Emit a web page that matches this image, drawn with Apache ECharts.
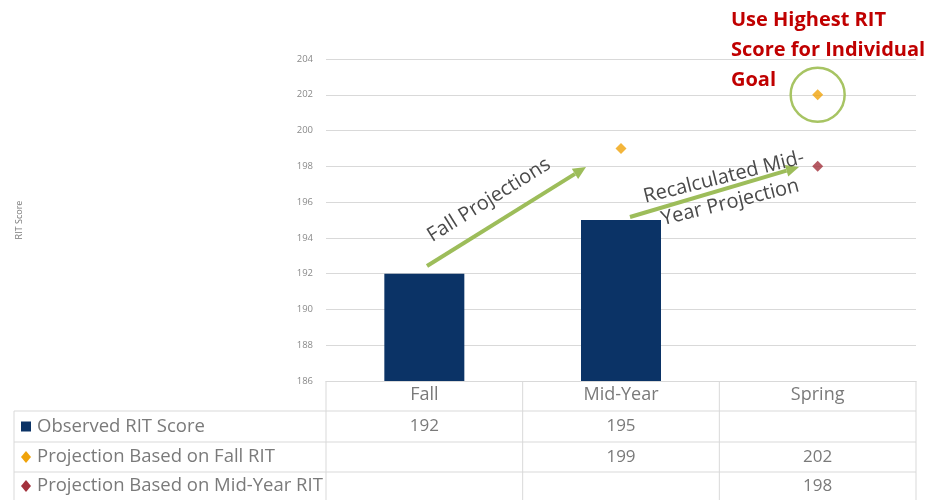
<!DOCTYPE html>
<html>
<head>
<meta charset="utf-8">
<script src="https://cdn.jsdelivr.net/npm/echarts@6/dist/echarts.min.js"></script>
<style>
  html, body {margin: 0; padding: 0; background: #fff;}
  #chart {width: 932px; height: 500px;}
</style>
</head>
<body>
<div id="chart"></div>
<script>
const categories = ['Fall', 'Mid-Year', 'Spring'];
const observed = [192, 195, null];
const fallProjection = [null, 199, 202];
const midYearProjection = [null, null, 198];
const seriesNames = ['Observed RIT Score', 'Projection Based on Fall RIT', 'Projection Based on Mid-Year RIT'];
const seriesColors = ['#0b3366', '#f0a30a', '#a3313c'];

const font = '"Open Sans", sans-serif';
const gray = '#7a7a7a';
const lineColor = '#d9d9d9';
const green = '#9dbd5a';

const chart = echarts.init(document.getElementById('chart'));

chart.setOption({
    animation: false,
    textStyle: {fontFamily: font},
    grid: {left: 326, right: 16, top: 59, bottom: 119},
    xAxis: {
        type: 'category',
        data: categories,
        axisTick: {show: false},
        axisLine: {lineStyle: {color: lineColor}},
        axisLabel: {color: gray, fontSize: 18, margin: 5}
    },
    yAxis: {
        type: 'value',
        min: 186,
        max: 204,
        interval: 2,
        name: 'RIT Score',
        nameLocation: 'middle',
        nameGap: 302,
        nameTextStyle: {color: gray, fontSize: 9},
        axisLine: {show: false},
        axisTick: {show: false},
        axisLabel: {color: '#8a8a8a', fontSize: 9.5, margin: 13},
        splitLine: {lineStyle: {color: lineColor}}
    },
    series: [
        {
            name: seriesNames[0],
            type: 'bar',
            barWidth: 80,
            itemStyle: {color: seriesColors[0]},
            data: observed
        },
        {
            name: seriesNames[1],
            type: 'scatter',
            symbol: 'diamond',
            symbolSize: 11,
            itemStyle: {color: seriesColors[1]},
            data: fallProjection
        },
        {
            name: seriesNames[2],
            type: 'scatter',
            symbol: 'diamond',
            symbolSize: 11,
            itemStyle: {color: seriesColors[2]},
            data: midYearProjection
        }
    ]
});

// data table under the axis
const colX = categories.map((c) => chart.convertToPixel({xAxisIndex: 0}, c));
const tableLeft = 14, plotLeft = 326, plotRight = 916;
const rowTops = [411, 442, 472, 500];
const graphics = [];

// horizontal rules
rowTops.slice(0, 3).forEach((y) => {
    graphics.push({type: 'line', shape: {x1: tableLeft, y1: y, x2: plotRight, y2: y}, style: {stroke: lineColor, lineWidth: 1}});
});
// vertical rules
graphics.push({type: 'line', shape: {x1: tableLeft, y1: 411, x2: tableLeft, y2: 500}, style: {stroke: lineColor}});
const colW = (plotRight - plotLeft) / categories.length;
for (let i = 0; i <= categories.length; i++) {
    const x = plotLeft + colW * i;
    graphics.push({type: 'line', shape: {x1: x, y1: 381, x2: x, y2: 500}, style: {stroke: lineColor}});
}

const rows = [observed, fallProjection, midYearProjection];
rows.forEach((vals, r) => {
    const cy = (rowTops[r] + rowTops[r + 1]) / 2;
    // legend key
    if (r === 0) {
        graphics.push({type: 'rect', shape: {x: 21, y: cy - 5, width: 10, height: 10}, style: {fill: seriesColors[r]}});
    } else {
        graphics.push({type: 'polygon', shape: {points: [[26, cy - 6], [31, cy], [26, cy + 6], [21, cy]]}, style: {fill: seriesColors[r]}});
    }
    graphics.push({
        type: 'text', x: 37, y: cy,
        style: {text: seriesNames[r], fill: gray, font: '18.5px ' + font, verticalAlign: 'middle'}
    });
    vals.forEach((v, i) => {
        if (v == null) return;
        graphics.push({
            type: 'text', x: colX[i], y: cy,
            style: {text: String(v), fill: gray, font: '17px ' + font, align: 'center', verticalAlign: 'middle'}
        });
    });
});

// annotation arrows
function arrow(x1, y1, x2, y2) {
    const a = Math.atan2(y2 - y1, x2 - x1);
    const len = 13, w = 6;
    const bx = x2 - Math.cos(a) * len, by = y2 - Math.sin(a) * len;
    const px = -Math.sin(a) * w, py = Math.cos(a) * w;
    graphics.push({type: 'line', shape: {x1: x1, y1: y1, x2: bx, y2: by}, style: {stroke: green, lineWidth: 4}});
    graphics.push({type: 'polygon', shape: {points: [[x2, y2], [bx + px, by + py], [bx - px, by - py]]}, style: {fill: green}});
}
arrow(427, 266, 586, 167);
arrow(630, 217, 799, 167);

graphics.push({
    type: 'text', x: 489, y: 200, rotation: 32 * Math.PI / 180,
    style: {text: 'Fall Projections', fill: '#4a4a4a', font: '20px ' + font, align: 'center', verticalAlign: 'middle'}
});
graphics.push({
    type: 'text', x: 727, y: 190, rotation: 14 * Math.PI / 180,
    style: {text: 'Recalculated Mid-\nYear Projection', fill: '#4a4a4a', font: '20px ' + font, align: 'center', verticalAlign: 'middle', lineHeight: 26}
});

// highlight circle around highest score
const hi = chart.convertToPixel({seriesIndex: 1}, [2, fallProjection[2]]);
graphics.push({type: 'circle', shape: {cx: hi[0], cy: hi[1], r: 27}, style: {fill: 'none', stroke: '#a7c463', lineWidth: 2.5}});

graphics.push({
    type: 'text', x: 731, y: 5,
    style: {text: 'Use Highest RIT\nScore for Individual\nGoal', fill: '#c00000', font: 'bold 20px ' + font, lineHeight: 30}
});

chart.setOption({graphic: graphics});
</script>
</body>
</html>
